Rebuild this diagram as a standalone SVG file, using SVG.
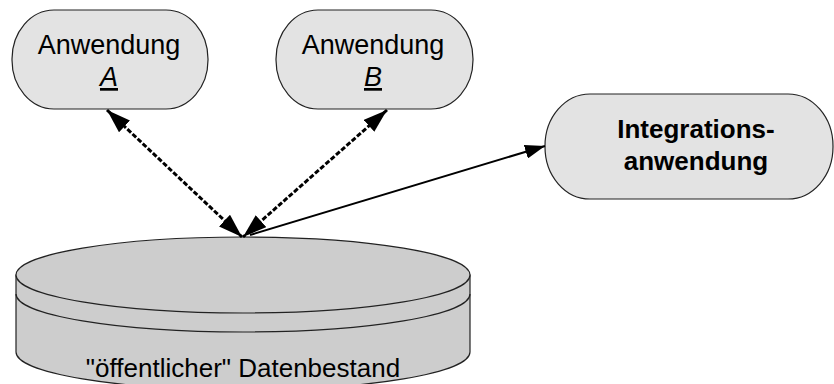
<svg xmlns="http://www.w3.org/2000/svg" width="834" height="384" viewBox="0 0 834 384">
<style>
.node{fill:#e3e3e3;stroke:#222;stroke-width:1.2}
.db{fill:#cdcdcd;stroke:#222;stroke-width:1.2}
.t{font-family:"Liberation Sans",Arial,sans-serif;font-size:26px;fill:#000;text-anchor:middle}
.a{font-size:27px}
.b{font-weight:bold}
.dash{fill:none;stroke:#000;stroke-width:3;stroke-dasharray:5,2}
.solid{fill:none;stroke:#000;stroke-width:2}
</style>
<defs>
<marker id="ah" viewBox="0 0 24 16" refX="24" refY="8" markerWidth="24" markerHeight="16" markerUnits="userSpaceOnUse" orient="auto-start-reverse">
<path d="M0,0 L24,8 L0,16 Z" fill="#000"/>
</marker>
<marker id="ah2" viewBox="0 0 20 14" refX="20" refY="7" markerWidth="20" markerHeight="14" markerUnits="userSpaceOnUse" orient="auto-start-reverse">
<path d="M0,0 L20,7 L0,14 Z" fill="#000"/>
</marker>
</defs>
<g id="db">
<path class="db" d="M16,275 L16,352 A227,38 0 0 0 470,352 L470,275 Z"/>
<ellipse class="db" cx="243" cy="275" rx="227" ry="38"/>
<path d="M16,294 A227,38 0 0 0 470,294" fill="none" stroke="#222" stroke-width="1.2"/>
<text class="t" x="243" y="377">"öffentlicher" Datenbestand</text>
</g>
<g id="nodeA">
<rect class="node" x="12" y="10" width="196" height="99" rx="42" ry="49"/>
<text class="t a" x="109" y="54">Anwendung</text>
<text class="t a" x="109" y="86" font-style="italic" text-decoration="underline">A</text>
</g>
<g id="nodeB">
<rect class="node" x="276" y="10" width="197" height="99" rx="42" ry="49"/>
<text class="t a" x="373" y="54">Anwendung</text>
<text class="t a" x="373" y="86" font-style="italic" text-decoration="underline">B</text>
</g>
<g id="nodeI">
<rect class="node" x="545" y="94" width="288" height="105" rx="45" ry="52"/>
<text class="t b" x="696" y="138">Integrations-</text>
<text class="t b" x="696" y="170">anwendung</text>
</g>
<g id="connectors">
<line class="dash" x1="107" y1="110" x2="242" y2="237" marker-start="url(#ah)" marker-end="url(#ah)"/>
<line class="dash" x1="387" y1="110" x2="243" y2="237" marker-start="url(#ah)" marker-end="url(#ah)"/>
<line class="solid" x1="250" y1="235" x2="545" y2="146" marker-end="url(#ah2)"/>
</g>
</svg>
